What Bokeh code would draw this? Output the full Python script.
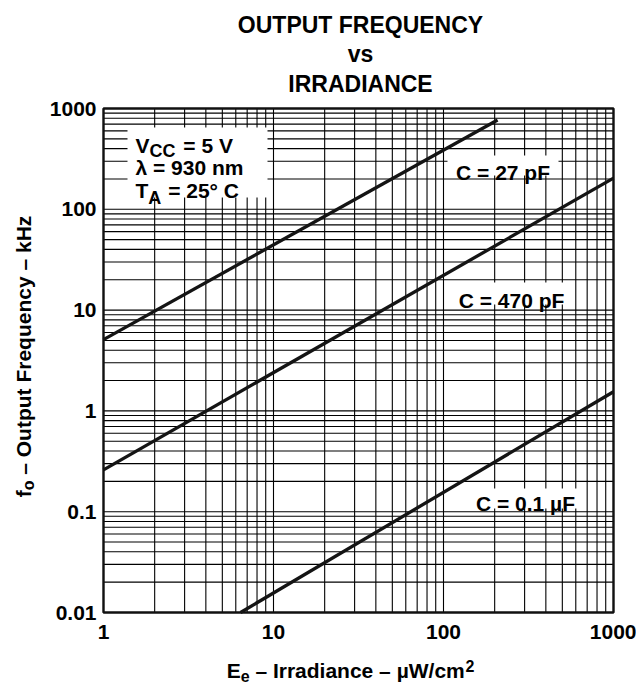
import math
from bokeh.plotting import figure
from bokeh.models import FixedTicker, Label, BoxAnnotation, CustomJSTickFormatter, Range1d
from bokeh.embed import file_html
from bokeh.resources import INLINE

# ---------------- data ----------------
irr_27pF = [1, 208]
freq_27pF = [5.1, 770]
irr_470pF = [1, 1000]
freq_470pF = [0.26, 204]
irr_01uF = [6.4, 1000]
freq_01uF = [0.01, 1.55]

x_major = [1, 10, 100, 1000]
x_minor = [2, 3, 4, 5, 6, 7, 8, 9,
           20, 30, 40, 50, 60, 70, 80, 90,
           200, 300, 400, 500, 600, 700, 800, 900]
y_major = [0.01, 0.1, 1, 10, 100, 1000]
y_minor = [0.02, 0.03, 0.04, 0.05, 0.06, 0.07, 0.08, 0.09,
           0.2, 0.3, 0.4, 0.5, 0.6, 0.7, 0.8, 0.9,
           2, 3, 4, 5, 6, 7, 8, 9,
           20, 30, 40, 50, 60, 70, 80, 90,
           200, 300, 400, 500, 600, 700, 800, 900]

title_lines = ["OUTPUT FREQUENCY", "vs", "IRRADIANCE"]
curve_labels = ["C = 27 pF", "C = 470 pF", "C = 0.1 \u00b5F"]

FONT = "Liberation Sans"
W = {' ': 278, '\u2013': 556, '=': 584, '.': 278, '/': 278, '\u00b0': 400, '\u00b5': 611,
     'A': 722, 'C': 722, 'E': 667, 'F': 611, 'H': 722, 'I': 278, 'O': 778, 'T': 611, 'V': 667, 'W': 944,
     'a': 556, 'c': 556, 'd': 611, 'e': 556, 'f': 333, 'i': 278, 'k': 556, 'm': 889, 'n': 611,
     'o': 611, 'p': 611, 'q': 611, 'r': 389, 't': 333, 'u': 611, 'y': 556, 'z': 500,
     '0': 556, '1': 556, '2': 556, '3': 556, '4': 556, '5': 556, '7': 556, '9': 556}


def tw(s, size):
    return sum(W.get(c, 556) for c in s) * size / 1000.0


# page geometry (px); the frame spans the whole canvas, the chart box sits inside it
CW, CH = 636, 683
FL, FR, FT, FB = 103, 613, 108, 612
XDEC = (FR - FL) / 3.0
YDEC = (FB - FT) / 5.0


def X(cx):
    return 10 ** ((cx - FL) / XDEC)


def Y(cy):
    return 10 ** (3 - (cy - FT) / YDEC)


p = figure(width=CW, height=CH, x_axis_type="log", y_axis_type="log",
           x_range=Range1d(X(0), X(CW)), y_range=Range1d(Y(CH), Y(0)),
           output_backend="svg", toolbar_location=None,
           min_border_left=0, min_border_right=0,
           min_border_top=0, min_border_bottom=0)
p.background_fill_color = "white"
p.border_fill_color = "white"
p.outline_line_color = None
p.xgrid.visible = False
p.ygrid.visible = False

xt = FixedTicker(ticks=x_major, minor_ticks=[])
yt = FixedTicker(ticks=y_major, minor_ticks=[])
p.xaxis[0].ticker = xt
p.yaxis[0].ticker = yt
p.xaxis[0].fixed_location = y_major[0]
p.yaxis[0].fixed_location = x_major[0]

for ax in (p.xaxis[0], p.yaxis[0]):
    ax.formatter = CustomJSTickFormatter(code="return tick.toString();")
    ax.axis_line_color = None
    ax.major_tick_line_color = None
    ax.minor_tick_line_color = None
    ax.major_tick_out = 0
    ax.major_tick_in = 0
    ax.major_label_text_font = FONT
    ax.major_label_text_font_size = "21px"
    ax.major_label_text_font_style = "bold"
    ax.major_label_text_color = "black"
p.xaxis[0].major_label_standoff = 12
p.yaxis[0].major_label_standoff = 7

GC = "#000000"
# grid lines from the tick lists
xs = x_major + x_minor
ys = y_major + y_minor
p.segment(x0=xs, y0=[y_major[0]] * len(xs), x1=xs, y1=[y_major[-1]] * len(xs),
          line_color=GC, line_width=1.1)
p.segment(x0=[x_major[0]] * len(ys), y0=ys, x1=[x_major[-1]] * len(ys), y1=ys,
          line_color=GC, line_width=1.1)
# chart box outline
p.quad(left=[x_major[0]], right=[x_major[-1]], bottom=[y_major[0]], top=[y_major[-1]],
       fill_color=None, line_color="#111111", line_width=2.4)

LC = "#141414"
p.line(irr_27pF, freq_27pF, line_width=3.3, color=LC)
p.line(irr_470pF, freq_470pF, line_width=3.3, color=LC)
p.line(irr_01uF, freq_01uF, line_width=3.3, color=LC)


def box(l, r, t, b):
    p.add_layout(BoxAnnotation(left=X(l), right=X(r), top=Y(t), bottom=Y(b),
                               fill_color="white", fill_alpha=1.0, line_color=None))


def lab(cx, cy, text, size=21, align="left", angle=0.0):
    p.add_layout(Label(x=X(cx), y=Y(cy), text=text, text_font=FONT,
                       text_font_size=f"{size}px", text_font_style="bold",
                       text_color="black", text_align=align,
                       text_baseline="alphabetic", angle=angle))


def runs(x, y, parts, vertical=False):
    """parts: list of (text, size, baseline shift, extra gap). Leading spaces become offsets."""
    pos = 0.0
    for text, size, shift, gap in parts:
        pos += gap
        stripped = text.lstrip(" ")
        lead = tw(text[:len(text) - len(stripped)], size)
        if vertical:
            lab(x + shift, y - pos - lead, stripped, size, angle=math.pi / 2)
        else:
            lab(x + pos + lead, y + shift, stripped, size)
        pos += tw(text, size)
    return pos


def run_width(parts):
    return sum(tw(t, s) + g for t, s, _, g in parts)


# white boxes behind annotations
box(127, 267, 127, 197)
box(447, 558, 155, 175)
box(453, 568, 282, 304)
box(472, 577, 488, 508)

# condition block
SUB = 18
x0 = 135
runs(x0, 145, [("V", 21, 0, 0), ("CC", SUB, 5, 0), (" = 5 V", 21, 0, 2)])
lab(x0, 167, "\u03bb = 930 nm")
runs(x0, 190, [("T", 21, 0, 0), ("A", SUB, 7, 0), (" = 25\u00b0 C", 21, 0, 1)])

# curve labels
lab(502.5, 172, curve_labels[0], align="center")
lab(511, 300, curve_labels[1], align="center")
lab(525, 503, curve_labels[2], align="center")

# title
lab(360, 24, title_lines[0], 23, "center")
lab(360, 53, title_lines[1], 23, "center")
lab(360, 83, title_lines[2], 23, "center")

# x-axis label
xa = [("E", 21, 0, 0), ("e", 16, 5, 0), (" \u2013 Irradiance \u2013 \u00b5W/cm", 21, 0, 0), ("2", 16, -5, 0)]
runs(350 - run_width(xa) / 2, 670, xa)

# y-axis label (rotated)
ya = [("f", 21, 0, 0), ("o", 16, 5, 0), (" \u2013 Output Frequency \u2013 kHz", 21, 0, 0)]
runs(23, 356 + run_width(ya) / 2, ya, vertical=True)

open("out.html", "w").write(file_html(p, INLINE))
